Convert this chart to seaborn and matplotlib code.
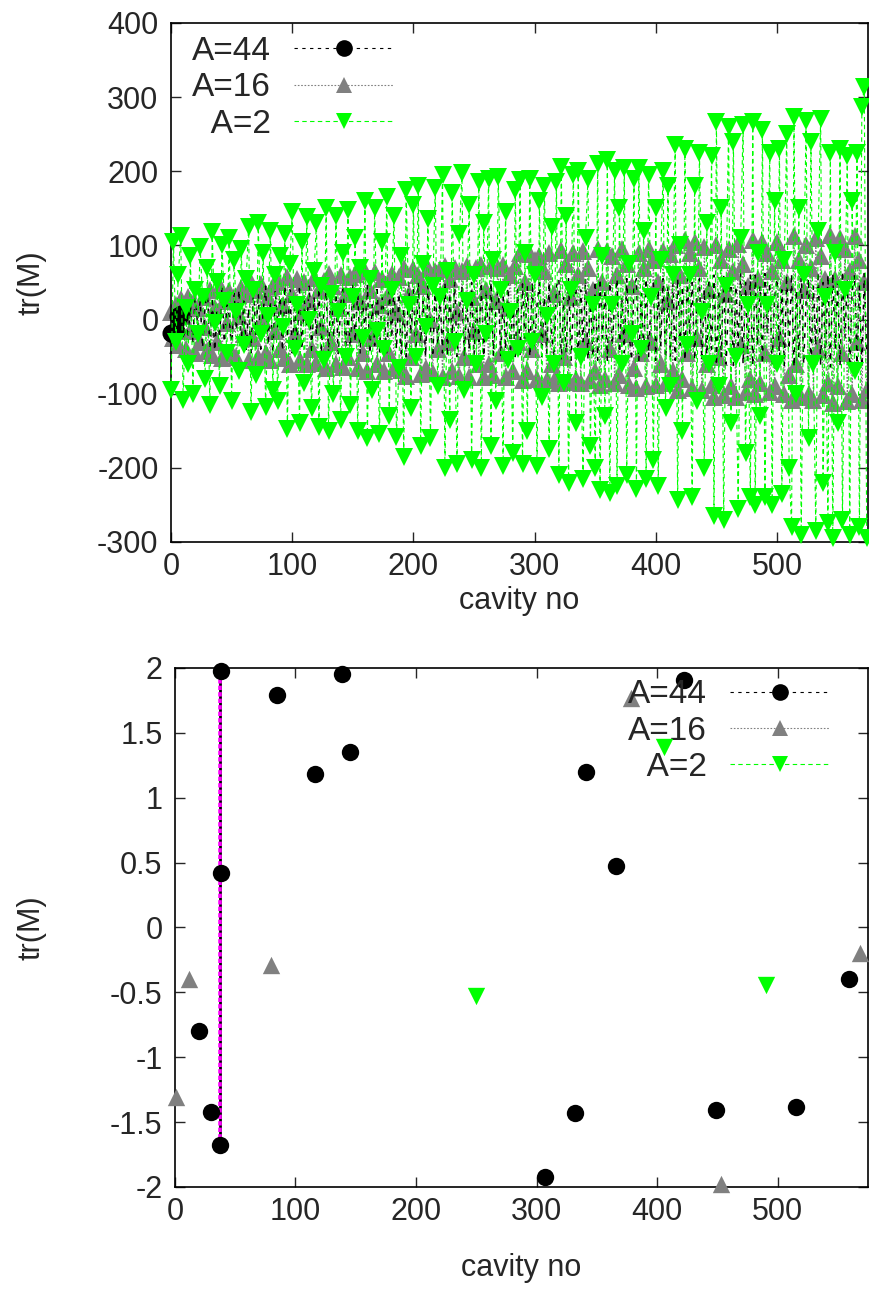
import numpy as np
import matplotlib
matplotlib.use("Agg")
import matplotlib.pyplot as plt
from matplotlib.lines import Line2D
from matplotlib.ticker import FuncFormatter
import seaborn as sns

# cavity index of the top panel (every 2nd cavity)
cavity = np.arange(0, 576, 2)

# tr(M) top panel, A=44
tr_a44 = [
    -18, -20, -15, 5, 8, -12, 10, -25, 20, -30, 35, -10, 25, -38, 15, 40,
    -40, 30, -42, 10, -25, 44, -38, 20, 5, -45, 35, -15, 40, -30, 25, -42,
    15, -45, 40, -20, 35, -40, 10, 45, -35, 25, -45, 40, -10, 30, -42, 45,
    -25, 40, -45, 15, -30, 46, -40, 25, -10, 45, -46, 30, -20, 42, -45, 10,
    38, -46, 45, -25, 35, -46, 20, 46, -40, 10, -45, 46, -30, 40, -46, 25,
    -15, 46, -46, 20, -35, 45, -45, 30, 5, -46, 45, -25, 46, -40, 35, -46,
    15, -50, 50, -20, 40, -48, 50, -30, 25, -50, 45, -10, -50, 50, -35, 30,
    -45, 50, -50, 35, -20, 50, -50, 15, 45, -50, 30, -40, 50, -48, 20, -30,
    50, -50, 40, -25, 50, -48, 15, 45, -50, 30, -40, 50, -45, 20, -50, 40,
    -50, 48, -30, 45, -50, 50, -35, 20, 50, -50, 30, -45, 50, -20, -50, 45,
    55, -54, 30, -45, 55, -55, 20, 50, -55, 40, -30, 55, -54, 35, -50, 52,
    -55, 55, -25, 40, -55, 50, -35, 20, 55, -52, 30, -45, 55, -20, -55, 45,
    55, -55, 35, -45, 55, -50, 25, 50, -55, 40, -35, 55, -52, 45, -50, 50,
    -55, 55, -35, 45, -55, 55, -20, 50, -55, 30, 55, -55, 40, -55, 55, -40,
    60, -62, 40, -50, 62, -60, 25, 55, -62, 45, -35, 62, -60, 50, -55, 60,
    -62, 60, -35, 45, -60, 62, -20, 50, -62, 30, 55, -58, 40, -62, 60, -40,
    62, -64, 40, -50, 64, -60, 25, 55, -64, 45, -35, 64, -62, 50, -55, 60,
    -64, 62, -40, 50, -62, 65, -25, 55, -64, 40, 60, -60, 45, -64, 62, -45,
]

# tr(M) top panel, A=16
tr_a16 = [
    10, -25, 20, -35, 28, 5, -40, 30, -15, 22, -45, 15, -30, 30, -10, -42,
    40, -48, 15, -30, 45, -52, 25, -5, 38, -45, 30, -50, 5, 42, -20, 35,
    -55, 50, -25, 40, -50, 48, 0, -45, 30, -55, 45, -15, 50, -40, 20, -52,
    58, -60, 35, -20, 55, -55, 10, 50, -60, 25, -40, 56, -58, 40, -10, 52,
    -65, 62, -30, 45, -60, 15, 60, -64, 35, -50, 58, -20, 62, -65, 25, -45,
    66, -70, 40, -25, 64, -60, 20, 55, -70, 30, -45, 62, -65, 10, 58, -68,
    70, -76, 35, -50, 68, -20, 60, -74, 45, -65, 70, 0, -72, 66, -40, 68,
    -78, 72, -30, 55, -70, 70, 10, -76, 65, -50, 72, -78, 30, -15, 70, -60,
    74, -78, 40, -60, 72, -75, 25, 70, -45, 74, -78, 15, 60, -70, 72, -30,
    90, -82, 50, -70, 88, -40, 80, -80, 85, -20, 65, -82, 90, -60, 35, -78,
    -85, 94, -50, 75, -84, 30, 90, -80, 60, -85, 92, -30, 70, -82, 40, -70,
    95, -88, 50, -80, 92, -40, 85, -86, 60, -75, 95, -20, 75, -88, 45, -65,
    -92, 90, -45, 70, -90, 95, -30, 80, -88, 50, -60, 92, -85, 25, 88, -70,
    100, -95, 60, -80, 107, -45, 90, -92, 104, -25, 70, -95, 98, -60, 40, -88,
    -105, 100, -50, 80, -102, 35, 95, -90, 65, -105, 102, -35, 75, -98, 45, -80,
    107, -100, 55, -85, 105, -45, 90, -98, 65, -90, 104, -25, 80, -100, 50, -75,
    -108, 112, -60, 80, -105, 40, 100, -100, 70, -108, 110, -40, 85, -102, 55, -85,
    114, -113, 55, -90, 110, -45, 95, -110, 65, -100, 112, -30, 80, -108, 50, -95,
]

# tr(M) top panel, A=2
tr_a2 = [
    -95, 105, -30, 60, 112, -108, 15, -60, 85, -100, 40, -20, 98, 30, -80, 70,
    -115, 118, -5, 50, -90, 100, 25, -45, 110, -110, 80, 10, -70, 95, -35, 55,
    125, -125, 40, -75, 130, -20, 90, -118, 5, 120, -95, 60, -110, 85, -10, 115,
    -148, 75, 145, -40, 20, -140, 105, -85, 138, 0, -120, 65, 130, -145, 45, -55,
    150, -150, 35, -100, 140, 10, -135, 90, -50, 148, -115, 30, 110, -150, 70, -25,
    160, -160, 55, -95, 150, -15, -155, 105, -40, 165, -130, 40, 140, -158, -65, 85,
    -185, 175, 20, -120, 155, -50, 180, -170, 75, -10, 135, -160, 45, 178, -90, 30,
    195, -200, 65, -135, 170, -30, -195, 115, 198, -95, 25, 155, -190, 60, -60, 185,
    -200, 130, -20, 190, -170, 80, -110, 192, 40, -198, 145, -55, 10, -180, 175, -40,
    188, -195, 90, -150, 190, -30, 60, -198, 160, -105, 180, 5, -175, 125, -60, 185,
    -210, 206, -85, 140, -220, 40, 195, -140, 200, -50, -215, 110, 190, -170, 20, -200,
    210, -230, 85, -130, 215, -234, 20, 200, -225, 150, -60, 205, -210, 75, -20, 190,
    -228, 205, -40, 120, -215, 195, 30, -190, 150, -225, 80, 200, -120, 180, -90, 60,
    235, -244, 100, -150, 230, -35, 60, -240, 180, -110, 225, 10, -200, 130, -60, 220,
    -265, 266, -90, 150, -271, 45, 260, -140, 240, -50, -255, 110, 262, -180, 20, -240,
    266, -250, 90, -130, 255, -240, 20, 225, -250, 160, -60, 230, -235, 80, 250, -200,
    -280, 273, -100, 150, -291, 60, 268, -160, 240, -60, -285, 120, 270, -220, 30, -275,
    225, -295, 90, -140, 230, -270, 40, 220, -290, 160, -70, 225, -280, 287, 314, -295,
]

# bottom panel (zoom on -2..2)
zoom_a44_x = [38, 85, 139, 145, 116, 38, 20, 30, 37, 307, 332, 341, 366, 422, 449, 515, 559]
zoom_a44_y = [1.98, 1.79, 1.95, 1.35, 1.18, 0.42, -0.80, -1.42, -1.68, -1.92, -1.43, 1.20, 0.47, 1.91, -1.41, -1.38, -0.40]
zoom_a16_x = [1, 12, 80, 378, 453, 568]
zoom_a16_y = [-1.31, -0.40, -0.29, 1.77, -1.98, -0.20]
zoom_a2_x = [250, 406, 490]
zoom_a2_y = [-0.53, 1.39, -0.44]
link_x = [37, 37]
link_y = [-1.68, 1.98]

labels = ["A=44", "A=16", "  A=2"]
colors = ["black", "#808080", "#00ff00"]
markers = ["o", "^", "v"]
msizes = [13, 13, 13]
dashes = [(0, (3, 4)), (0, (1.5, 1.5)), (0, (4, 3))]

sns.set_theme(style="ticks")
plt.rcParams["font.family"] = ["Liberation Sans", "DejaVu Sans"]
plt.rcParams["axes.unicode_minus"] = False

FS = 22

fig = plt.figure(figsize=(8.7, 12.95), dpi=100)
ax1 = fig.add_axes([0.1966, 0.5815, 0.801, 0.4008])
ax2 = fig.add_axes([0.2011, 0.0834, 0.7966, 0.4008])

# top panel: gray first, black hatch over it, green on top
for i, ys in [(1, tr_a16), (0, tr_a44), (2, tr_a2)]:
    kw = {}
    if i == 0:
        kw["markevery"] = slice(0, 5)
    sns.lineplot(x=cavity, y=ys, ax=ax1, estimator=None, sort=False,
                 color=colors[i], marker=markers[i], markersize=msizes[i],
                 markeredgewidth=0, linewidth=1.1 if i == 0 else 0.8,
                 linestyle=dashes[i], clip_on=False, zorder=2 + [1, 0, 2][i], **kw)

ax1.set_xlim(0, 575)
ax1.set_ylim(-300, 400)
ax1.set_yticks(range(-300, 401, 100))

# bottom panel
sns.lineplot(x=link_x, y=link_y, ax=ax2, estimator=None, sort=False,
             color="black", linewidth=2.0, zorder=2)
sns.lineplot(x=link_x, y=link_y, ax=ax2, estimator=None, sort=False,
             color="magenta", linewidth=2.6, linestyle=(0, (1.2, 0.6)), zorder=3)
for i, (xs, ys) in enumerate([(zoom_a44_x, zoom_a44_y), (zoom_a16_x, zoom_a16_y), (zoom_a2_x, zoom_a2_y)]):
    sns.scatterplot(x=xs, y=ys, ax=ax2, color=colors[i], marker=markers[i],
                    s=(msizes[i] - 0.5) ** 2, linewidth=0, clip_on=False, zorder=4 + i)

ax2.set_xlim(0, 575)
ax2.set_ylim(-2, 2)
ax2.set_yticks(np.arange(-2, 2.01, 0.5))
ax2.yaxis.set_major_formatter(FuncFormatter(lambda v, p: "%g" % v))

handles = [Line2D([], [], color=colors[i], marker=markers[i], markersize=msizes[i] - 1,
                  markeredgewidth=0, linewidth=0.8, linestyle=dashes[i]) for i in range(3)]

for ax in (ax1, ax2):
    ax.set_xticks(range(0, 501, 100))
    ax.set_xlabel("cavity no", fontsize=FS)
    ax.set_ylabel("tr(M)", fontsize=FS)
    ax.tick_params(direction="in", length=7, width=1, top=True, right=True,
                   labelsize=FS)
    ax.tick_params(axis="x", pad=7)
    ax.tick_params(axis="y", pad=9)
    for sp in ax.spines.values():
        sp.set_linewidth(1.2)
        sp.set_color("black")
    ax.set_facecolor("white")

ax1.yaxis.set_label_coords(-0.178, 0.5)
ax2.yaxis.set_label_coords(-0.186, 0.5)
ax1.xaxis.set_label_coords(0.5, -0.085)
ax2.xaxis.set_label_coords(0.5, -0.127)

leg_kw = dict(markerfirst=False, frameon=False, handlelength=3.0, handletextpad=0.7,
              labelspacing=0.16, borderpad=0, borderaxespad=0, fontsize=24, numpoints=1)
ax1.legend(handles, labels, loc="upper left", bbox_to_anchor=(0.03, 0.975), **leg_kw)
ax2.legend(handles, labels, loc="upper right", bbox_to_anchor=(0.945, 0.978), **leg_kw)

fig.savefig("out.png", dpi=100, facecolor="white")
